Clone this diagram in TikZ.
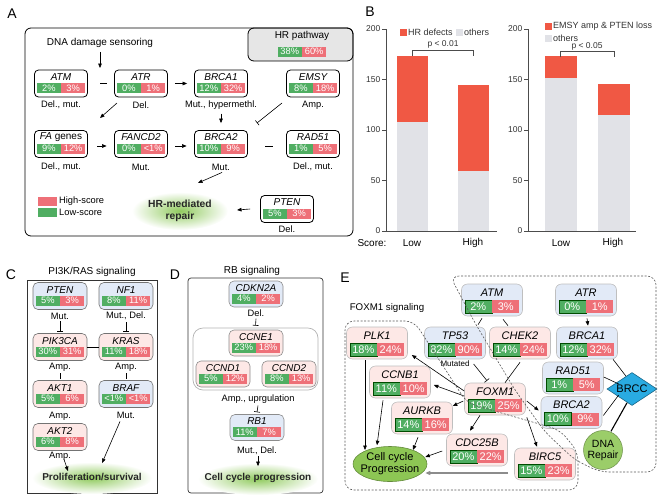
\documentclass[tikz,border=0pt]{standalone}
\usepackage{fontspec}
\setmainfont{Liberation Sans}
\usetikzlibrary{arrows.meta,shapes.geometric,calc}
\definecolor{gg}{RGB}{80,174,98}
\definecolor{rr}{RGB}{238,112,120}
\definecolor{pk}{RGB}{253,232,230}
\definecolor{bl}{RGB}{226,234,247}
\definecolor{barred}{RGB}{240,88,68}
\definecolor{bargray}{RGB}{225,226,231}
\definecolor{glow}{RGB}{145,203,95}
\definecolor{ccg}{RGB}{141,198,84}
\definecolor{dnag}{RGB}{155,205,105}
\definecolor{brcc}{RGB}{41,171,226}
\definecolor{hrg}{RGB}{230,230,230}
\newcommand\gnf{\fontsize{10}{10}\selectfont\itshape}
\newcommand\gpf{\fontsize{9.3}{9}\selectfont}
\newcommand\gbw{24pt}
\newcommand\gbh{10pt}
\newcommand\gno{6.5}
\newcommand\gbo{4.5}
\newcommand\gene[7]{%
  \node[#1] (#2) at (#3,#4) {};
  \node[gname] (#2n) at (#3,#4-\gno) {#5};
  \node[gpg] (#2g) at (#3,#4+\gbo) {#6};
  \node[gpr] (#2r) at (#3,#4+\gbo) {#7};
}
\begin{document}
\begin{tikzpicture}[x=1pt,y=-1pt,
  arr/.style={-{Triangle[length=4.5pt,width=3.6pt]},line width=0.6pt},
  tee/.style={-{Bar[width=6pt]},line width=0.6pt},
  ln/.style={line width=0.6pt},
  lab/.style={font=\fontsize{9.3}{10}\selectfont, inner sep=0},
  plabel/.style={font=\fontsize{14}{14}\selectfont, inner sep=0},
  gname/.style={font=\gnf, inner sep=0},
  gpg/.style={fill=gg, text=white, anchor=east, inner sep=0, minimum width=\gbw, minimum height=\gbh, font=\gpf},
  gpr/.style={fill=rr, text=white, anchor=west, inner sep=0, minimum width=\gbw, minimum height=\gbh, font=\gpf},
  axc/.style={draw=black!70, line width=0.7pt},
  tick/.style={font=\fontsize{8.5}{9}\selectfont, inner sep=0, text=black!80},
  glowtext/.style={font=\bfseries\fontsize{10}{11.5}\selectfont, inner sep=0, align=center, text=black!85},
  regdash/.style={draw=black!65, line width=0.6pt, dash pattern=on 2pt off 1.6pt, rounded corners=9pt}
]
\path[use as bounding box] (0,0) rectangle (660,498);

% ================= Panel A =================
\begin{scope}[gbox/.style={draw, fill=white, rounded corners=4pt, line width=0.8pt, minimum width=53pt, minimum height=27pt, inner sep=0}]
\node[plabel] (labA) at (12,14) {A};
\node[draw, line width=0.8pt, fill=hrg, rounded corners=6pt, minimum width=105pt, minimum height=33pt, inner sep=0] (hrbox) at (300.5,44.5) {};
\node[draw, line width=0.8pt, rounded corners=6pt, minimum width=328pt, minimum height=208pt, inner sep=0] (boxA) at (189,132) {};
\node[font=\fontsize{10}{10}\selectfont, inner sep=0] (hrt) at (302,36) {HR pathway};
\node[gpg] (hrgg) at (302,51.5) {38\%};
\node[gpr] (hrrr) at (302,51.5) {60\%};
\node[font=\fontsize{10}{10}\selectfont, inner sep=0] (dds) at (100,43) {DNA damage sensoring};
\coordinate (ddsend) at (100,68);
\draw[arr] ([yshift=-4pt]dds.south) -- (ddsend);

\gene{gbox}{aATM}{61}{83.5}{ATM}{2\%}{3\%}
\gene{gbox}{aATR}{141}{83.5}{ATR}{0\%}{1\%}
\gene{gbox}{aBRCAa}{221}{83.5}{BRCA1}{12\%}{32\%}
\gene{gbox}{aEMSY}{313}{83.5}{EMSY}{8\%}{18\%}
\gene{gbox}{aFA}{61}{144}{FA \textup{genes}}{9\%}{12\%}
\gene{gbox}{aFANCD}{141}{144}{FANCD2}{0\%}{<1\%}
\gene{gbox}{aBRCAb}{221}{144}{BRCA2}{10\%}{9\%}
\gene{gbox}{aRAD}{313}{144}{RAD51}{1\%}{5\%}
\gene{gbox}{aPTEN}{287}{209}{PTEN}{5\%}{3\%}

\node[lab] (aL1) at (61,105) {Del., mut.};
\node[lab] (aL2) at (141,105) {Del.};
\node[lab] (aL3) at (221,105) {Mut., hypermethl.};
\node[lab] (aL4) at (313,105) {Amp.};
\node[lab] (aL5) at (61,167) {Del., mut.};
\node[lab] (aL6) at (141,167) {Mut.};
\node[lab] (aL7) at (221,167) {Mut.};
\node[lab] (aL8) at (313,167) {Del., mut.};
\node[lab] (aL9) at (287,229) {Del.};

\draw[ln] ([xshift=12.5pt]aATM.east) -- ([xshift=-7.5pt]aATR.west);
\draw[arr] ([xshift=7pt]aATR.east) -- ([xshift=-7pt]aBRCAa.west);
\coordinate (atrA) at (117,103);
\coordinate (atrB) at (100,118);
\draw[arr] (atrA) -- (atrB);
\draw[arr] ([yshift=-4pt]aL3.south) -- ([yshift=7pt]aBRCAb.north);
\coordinate (emA) at (282,103);
\coordinate (emB) at (257,123);
\draw[tee] (emA) -- (emB);
\draw[arr] ([xshift=9.5pt,yshift=-2pt]aFA.east) -- ([xshift=-7.5pt,yshift=-2pt]aFANCD.west);
\draw[arr] ([xshift=7.5pt,yshift=-2pt]aFANCD.east) -- ([xshift=-7.5pt,yshift=-2pt]aBRCAb.west);
\draw[ln] ([xshift=17.5pt,yshift=-2pt]aBRCAb.east) -- ([xshift=-13.5pt,yshift=-2pt]aRAD.west);

\node[fill=rr, minimum width=19pt, minimum height=8.5pt, inner sep=0] (legR) at (47.5,201.5) {};
\node[fill=gg, minimum width=19pt, minimum height=8.5pt, inner sep=0] (legG) at (47.5,212.5) {};
\node[lab, anchor=west] (legRt) at (59,201.5) {High-score};
\node[lab, anchor=west] (legGt) at (59,212.5) {Low-score};

\shade[inner color=glow, outer color=white] (180,211) ellipse (48 and 19);
\node[glowtext, font=\bfseries\fontsize{10.3}{12}\selectfont] (hrrep) at (180,211) {HR-mediated\\repair};
\coordinate (hrend) at (198,183);
\draw[arr] ([xshift=1pt,yshift=-2pt]aL7.south) -- (hrend);
\coordinate (ptenend) at (237,210);
\draw[arr] ([xshift=-10pt]aPTEN.west) -- (ptenend);
\end{scope}

% ================= Panel B =================
\node[plabel] (labB) at (370,12) {B};
% left chart
\fill[bargray] (397,231) rectangle (428,121.9);
\fill[barred] (397,121.9) rectangle (428,56.3);
\fill[bargray] (458,231) rectangle (489,171.4);
\fill[barred] (458,171.4) rectangle (489,84.5);
\draw[axc] (386,29) -- (386,231) -- (497,231);
\foreach \v/\yy in {0/231,50/180.5,100/130,150/79.5,200/29}{
  \draw[axc] (382,\yy) -- (386,\yy);
  \node[tick, anchor=east] (tl\v) at (380.5,\yy) {\v};
}
\fill[barred] (400,29) rectangle (407,36);
\node[tick, anchor=west, font=\fontsize{9}{9}\selectfont] (lgB1) at (408,32.5) {HR defects};
\fill[bargray] (456,29) rectangle (463,36);
\node[tick, anchor=west, font=\fontsize{9}{9}\selectfont] (lgB2) at (464,32.5) {others};
\draw[axc, line width=0.6pt] (412,56) -- (412,50) -- (473,50) -- (473,56);
\node[tick] (pB1) at (443,44) {p < 0.01};
\node[font=\fontsize{10}{11}\selectfont, inner sep=0] (scr) at (372,243) {Score:};
\node[font=\fontsize{10}{11}\selectfont, inner sep=0] (lowB1) at (412,243) {Low};
\node[font=\fontsize{10}{11}\selectfont, inner sep=0] (highB1) at (473,243) {High};
% right chart
\fill[bargray] (545,231) rectangle (577,77.5);
\fill[barred] (545,77.5) rectangle (577,56.3);
\fill[bargray] (598,231) rectangle (630,114.9);
\fill[barred] (598,114.9) rectangle (630,83.5);
\draw[axc] (528,29) -- (528,231) -- (636,231);
\foreach \v/\yy in {0/231,50/180.5,100/130,150/79.5,200/29}{
  \draw[axc] (524,\yy) -- (528,\yy);
  \node[tick, anchor=east] (tr\v) at (522.5,\yy) {\v};
}
\fill[barred] (545,23) rectangle (552,29.5);
\node[tick, anchor=west, font=\fontsize{9}{9}\selectfont] (lgB3) at (553,26) {EMSY amp \& PTEN loss};
\fill[bargray] (545,35) rectangle (552,41.5);
\node[tick, anchor=west, font=\fontsize{9}{9}\selectfont] (lgB4) at (553,38.5) {others};
\draw[axc, line width=0.6pt] (560,57) -- (560,51) -- (614,51) -- (614,57);
\node[tick] (pB2) at (587,46) {p < 0.05};
\node[font=\fontsize{10}{11}\selectfont, inner sep=0] (lowB2) at (561,243) {Low};
\node[font=\fontsize{10}{11}\selectfont, inner sep=0] (highB2) at (613,243) {High};

% ================= Panel C =================
\begin{scope}[cbox/.style={draw=black!55, rounded corners=5pt, line width=0.6pt, minimum width=54pt, minimum height=27pt, inner sep=0}]
\renewcommand\gno{6}
\node[plabel] (labC) at (11,275) {C};
\node[font=\fontsize{10}{11}\selectfont, inner sep=0] (titC) at (92,272) {PI3K/RAS signaling};
\node[draw=black!80, line width=0.7pt, minimum width=130pt, minimum height=213pt, inner sep=0] (boxC) at (92,386.5) {};
\gene{cbox,fill=bl}{cPTEN}{60}{296}{PTEN}{5\%}{3\%}
\gene{cbox,fill=bl}{cNF}{126}{296}{NF1}{8\%}{11\%}
\gene{cbox,fill=pk}{cPIK}{60}{347}{PIK3CA}{30\%}{31\%}
\gene{cbox,fill=pk}{cKRAS}{126}{347}{KRAS}{11\%}{18\%}
\gene{cbox,fill=pk}{cAKTa}{60}{394}{AKT1}{5\%}{6\%}
\gene{cbox,fill=bl}{cBRAF}{126}{394}{BRAF}{<1\%}{<1\%}
\gene{cbox,fill=pk}{cAKTb}{60}{437}{AKT2}{6\%}{8\%}
\node[lab] (cL1) at (60,316) {Mut.};
\node[lab] (cL2) at (126,316) {Mut., Del.};
\node[lab] (cL3) at (60,367) {Amp.};
\node[lab] (cL4) at (126,367) {Amp.};
\node[lab] (cL5) at (60,416) {Amp.};
\node[lab] (cL6) at (126,415) {Mut.};
\draw[tee] ([yshift=-2pt]cL1.south) -- ([yshift=2pt]cPIK.north);
\draw[tee] ([yshift=-2pt]cL2.south) -- ([yshift=2pt]cKRAS.north);
\draw[ln] (cPIK.east) -- (cKRAS.west);
\draw[ln] ([yshift=-2pt]cL3.south) -- ([yshift=1pt]cAKTa.north);
\draw[ln] ([yshift=-2pt]cL4.south) -- ([yshift=1pt]cBRAF.north);
\shade[inner color=glow, outer color=white] (92,478) ellipse (60 and 16);
\node[glowtext] (cProl) at (92,477) {Proliferation/survival};
\node[lab] (cL7) at (60,456) {Amp.};
\draw[arr] ([xshift=4pt,yshift=1pt]cL7.south) -- ([xshift=-24pt,yshift=2pt]cProl.north);
\draw[arr] ([xshift=-6pt,yshift=-3pt]cL6.south) -- ([xshift=10pt,yshift=10pt]cProl.north);
\end{scope}

% ================= Panel D =================
\begin{scope}[dbox/.style={draw=black!45, rounded corners=5pt, line width=0.6pt, minimum width=54pt, minimum height=26pt, inner sep=0}]
\renewcommand\gno{6}
\node[plabel] (labD) at (175,275) {D};
\node[font=\fontsize{10}{11}\selectfont, inner sep=0] (titD) at (252,271) {RB signaling};
\node[draw=black!80, line width=0.7pt, rounded corners=3pt, minimum width=135pt, minimum height=215pt, inner sep=0] (boxD) at (255.5,385.5) {};
\gene{dbox,fill=bl}{dCDKN}{256}{294}{CDKN2A}{4\%}{2\%}
\node[lab] (dL1) at (256,313) {Del.};
\node[draw=black!30, line width=0.7pt, rounded corners=10pt, minimum width=125pt, minimum height=62pt, inner sep=0] (dGrp) at (255.5,359) {};
\gene{dbox,fill=pk}{dCCNE}{256}{343}{CCNE1}{23\%}{18\%}
\gene{dbox,fill=pk}{dCCNDa}{223}{374}{CCND1}{5\%}{12\%}
\gene{dbox,fill=pk}{dCCNDb}{289}{374}{CCND2}{8\%}{13\%}
\node[lab] (dL2) at (258,399) {Amp., uprgulation};
\draw[tee] ([yshift=-2pt]dL1.south) -- ([yshift=2pt]dGrp.north);
\gene{dbox,fill=bl}{dRB}{257}{427.5}{RB1}{11\%}{7\%}
\draw[tee] ([yshift=-2pt]dL2.south) -- ([yshift=2pt]dRB.north);
\node[lab] (dL3) at (257,451) {Mut., Del.};
\shade[inner color=glow, outer color=white] (258,479) ellipse (60 and 16);
\node[glowtext] (dCell) at (258,478) {Cell cycle progression};
\draw[arr] ([xshift=1pt,yshift=-1pt]dL3.south) -- ([xshift=0pt,yshift=7pt]dCell.north);
\end{scope}

% ================= Panel E =================
\begin{scope}[ebox/.style={draw=black!25, rounded corners=6pt, line width=0.6pt, minimum width=61pt, minimum height=32pt, inner sep=0},
  gpg/.append style={draw=green!30!black, line width=0.4pt}]
\renewcommand\gnf{\fontsize{11}{12}\selectfont\itshape}
\renewcommand\gpf{\fontsize{11}{11}\selectfont}
\renewcommand\gbw{27pt}
\renewcommand\gbh{13pt}
\renewcommand\gno{7.5}
\renewcommand\gbo{6.5}
\node[plabel] (labE) at (345,278) {E};
\node[font=\fontsize{9.7}{10}\selectfont, inner sep=0] (titE) at (387,308) {FOXM1 signaling};
\gene{ebox,fill=bl}{eATM}{492}{300}{ATM}{2\%}{3\%}
\gene{ebox,fill=bl}{eATR}{586}{300}{ATR}{0\%}{1\%}
\gene{ebox,fill=pk}{ePLK}{377}{343}{PLK1}{18\%}{24\%}
\gene{ebox,fill=bl}{eTP}{455}{343}{TP53}{82\%}{90\%}
\gene{ebox,fill=pk}{eCHEK}{520}{343}{CHEK2}{14\%}{24\%}
\gene{ebox,fill=bl}{eBRCAa}{587}{343}{BRCA1}{12\%}{32\%}
\gene{ebox,fill=pk}{eCCNB}{400}{382}{CCNB1}{11\%}{10\%}
\gene{ebox,fill=pk}{eFOX}{495}{399}{FOXM1}{19\%}{25\%}
\gene{ebox,fill=bl}{eRAD}{573}{378}{RAD51}{1\%}{5\%}
\gene{ebox,fill=bl}{eBRCAb}{571.5}{412.5}{BRCA2}{10\%}{9\%}
\gene{ebox,fill=pk}{eAUR}{422}{418}{AURKB}{14\%}{16\%}
\gene{ebox,fill=pk}{eCDC}{477}{450}{CDC25B}{20\%}{22\%}
\gene{ebox,fill=pk}{eBIRC}{545}{464}{BIRC5}{15\%}{23\%}
\node[ellipse, draw=ccg!70!black, fill=ccg, line width=0.6pt, minimum width=74pt, minimum height=35pt, inner sep=0] (eCC) at (390,464) {};
\node[font=\fontsize{11}{12}\selectfont, align=center, inner sep=0] (eCCt) at (390,464) {Cell cycle\\Progression};
\node[diamond, draw=brcc!60!black, fill=brcc, line width=0.6pt, minimum width=50pt, minimum height=33pt, inner sep=0] (eBRCC) at (632,389) {};
\node[font=\fontsize{11}{12}\selectfont, inner sep=0] (eBRCCt) at (632,389) {BRCC};
\node[circle, draw=dnag!70!black, fill=dnag, line width=0.5pt, minimum size=39pt, inner sep=0] (eDNA) at (603,450) {};
\node[font=\fontsize{10.5}{11}\selectfont, align=center, inner sep=0] (eDNAt) at (603,450) {DNA\\Repair};
\node[font=\fontsize{8}{9}\selectfont, inner sep=0] (eMut) at (455,364) {Mutated};

\draw[ln] ($(eATM.south)+(-10,2)$) -- ($(eTP.north)+(23,-2)$);
\draw[ln] ($(eATM.south)+(11,3)$) -- ($(eCHEK.north)+(-12,-1)$);
\draw[arr] ($(eATR.south)+(1,2)$) -- ($(eBRCAa.north)+(1,-1)$);
\draw[tee] ($(eMut.east)+(4,0)$) -- ($(eFOX.north)+(-8,-2)$);
\draw[ln] ($(eCHEK.south)+(0,3)$) -- ($(eFOX.north)+(10,0)$);
\draw[arr] ($(eFOX.west)+(0,-8)$) -- ($(ePLK.east)+(4,12)$);
\draw[arr] ($(eFOX.west)+(0,-3)$) -- ($(eCCNB.east)+(3,3)$);
\draw[arr] ($(eFOX.west)+(-1,2)$) -- ($(eAUR.east)+(0,-12)$);
\draw[arr] ($(eFOX.south)+(-15,0)$) -- ($(eCDC.north)+(-7,-3)$);
\draw[arr] ($(eFOX.south east)+(1,2)$) -- ($(eBIRC.north)+(-8,-1)$);
\draw[arr] ($(eFOX.east)+(1,2)$) -- ($(eBRCAb.west)+(-2,-2)$);
\draw[arr] ($(ePLK.south)+(-12,1)$) -- ($(eCC.center)+(-25,-14)$);
\draw[arr] ($(eCCNB.south)+(-17,2)$) -- ($(eCC.north)+(-13,-1)$);
\draw[arr] ($(eAUR.south)+(-4,3)$) -- ($(eCC.center)+(23,-14)$);
\draw[arr] ($(eCDC.west)+(-4,1)$) -- ($(eCC.east)+(-2,-7)$);
\draw[-{Triangle[length=5pt,width=4pt]}, line width=1.3pt, black!45] ($(eBIRC.west)+(-6,9)$) -- ($(eCC.east)+(-2,9)$);
\draw[ln] ($(eBRCAa.south)+(26,0)$) -- ($(eBRCC.north)+(-6,4)$);
\draw[ln] ($(eRAD.east)+(0,-1)$) -- ($(eBRCC.west)+(12,-5)$);
\draw[ln] ($(eBRCAb.east)+(1,3)$) -- ($(eBRCC.west)+(12,6)$);
\draw[line width=1.1pt] ($(eBRCC.south)+(-5,-3)$) -- ($(eDNA.north)+(8,1)$);

% dashed regions
\draw[regdash] (380,321) -- (414,321) -- (467,403) -- (560,430) -- (578,452) -- (578,490) -- (345,490) -- (345,321) -- cycle;
\draw[regdash] (560,276) -- (656,276) -- (656,472) -- (600,472) -- (575,460) -- (545,432) -- (515,390) -- (475,323) -- (450,276) -- cycle;
\end{scope}
\end{tikzpicture}
\end{document}
